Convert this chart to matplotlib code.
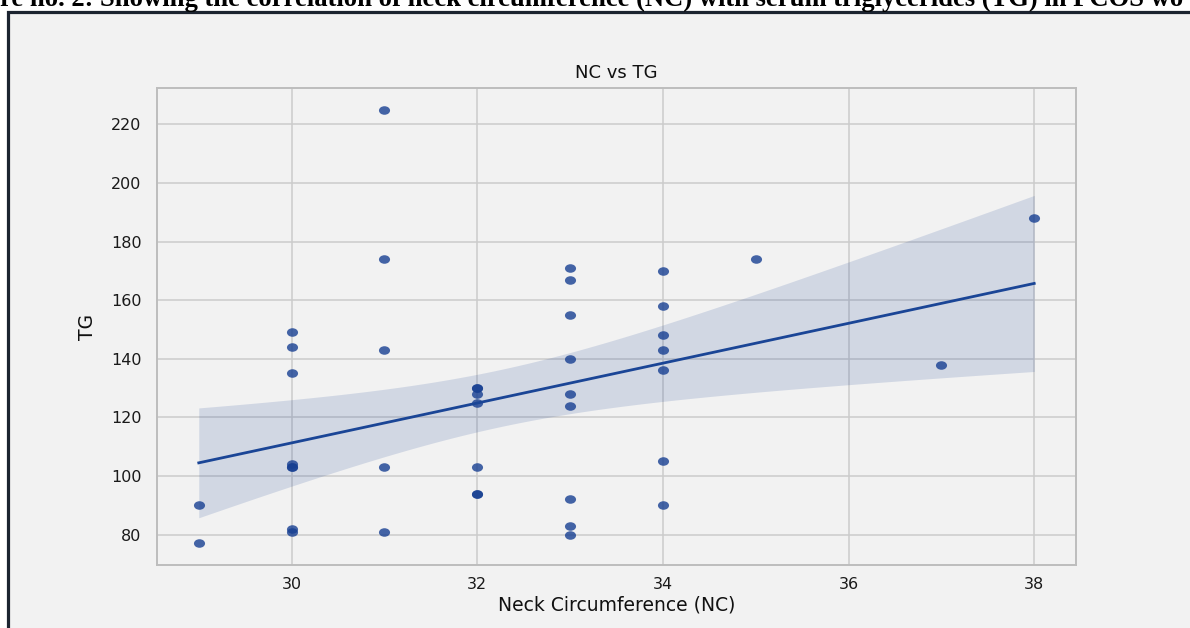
import numpy as np
import matplotlib
matplotlib.use("Agg")
import matplotlib.pyplot as plt
from matplotlib.path import Path
from matplotlib.patches import Rectangle
from matplotlib.transforms import Affine2D

# neck circumference (NC) and serum triglycerides (TG)
nc = [29, 29,
      30, 30, 30, 30, 30, 30, 30, 30,
      31, 31, 31, 31, 31,
      32, 32, 32, 32, 32, 32, 32,
      33, 33, 33, 33, 33, 33, 33, 33, 33,
      34, 34, 34, 34, 34, 34, 34,
      35, 37, 38]
tg = [90, 77,
      149, 144, 135, 104, 103, 103, 82, 81,
      225, 174, 143, 103, 81,
      130, 130, 128, 125, 103, 94, 94,
      171, 167, 155, 140, 128, 124, 92, 83, 80,
      170, 158, 148, 143, 136, 105, 90,
      174, 138, 188]

x_ticks = [30, 32, 34, 36, 38]
y_ticks = [80, 100, 120, 140, 160, 180, 200, 220]

caption = ("re no. 2: Showing the correlation of neck circumference (NC) "
           "with serum triglycerides (TG) in PCOS wo")

BG = "#f2f2f2"
COL = "#173f92"


def fit_band(x, y, xs, t=1.9):
    x = np.asarray(x, float)
    y = np.asarray(y, float)
    b, a = np.polyfit(x, y, 1)
    yhat = a + b * xs
    n = len(x)
    resid = y - (a + b * x)
    s = np.sqrt(np.sum(resid ** 2) / (n - 2))
    sxx = np.sum((x - x.mean()) ** 2)
    se = s * np.sqrt(1.0 / n + (xs - x.mean()) ** 2 / sxx)
    return yhat, yhat - t * se, yhat + t * se


def main():
    fig = plt.figure(figsize=(11.9, 6.28), dpi=100, facecolor="white")

    # framed panel behind the chart
    W, H = 1190.0, 628.0
    fig.patches.append(Rectangle((7.5 / W, -0.1), 1.2, 1 - 11.5 / H + 0.1,
                                 transform=fig.transFigure, facecolor=BG,
                                 edgecolor="#1c2430", linewidth=2.3,
                                 zorder=-5))

    fig.text(0.0, 1 - 6 / H, caption, ha="left", va="baseline",
             family="Liberation Serif", weight="bold", fontsize=19.2,
             color="black")

    ax = fig.add_axes([157 / W, 1 - 565 / H, (1076 - 157) / W, (565 - 88) / H])
    ax.set_facecolor(BG)

    xs = np.linspace(min(nc), max(nc), 100)
    yhat, lo, hi = fit_band(nc, tg, xs)

    ell = Path.unit_circle().transformed(Affine2D().scale(1.3, 1.0))
    ax.scatter(nc, tg, marker=ell, s=64, color=COL, alpha=0.8,
               linewidths=0, zorder=3)
    ax.fill_between(xs, lo, hi, color=COL, alpha=0.15, linewidth=0, zorder=2)
    ax.plot(xs, yhat, color="#1a4596", lw=2.0, zorder=4)

    ax.set_xlim(28.55, 38.45)
    ax.set_ylim(69.6, 232.4)
    ax.set_xticks(x_ticks)
    ax.set_yticks(y_ticks)
    ax.grid(True, color="#cbcbcb", lw=1.1)
    ax.set_axisbelow(True)
    for sp in ax.spines.values():
        sp.set_color("#bdbdbd")
        sp.set_linewidth(1.4)
    ax.tick_params(axis="both", length=0, labelsize=11.5, labelcolor="#1a1a1a")
    ax.tick_params(axis="x", pad=8.5)
    ax.tick_params(axis="y", pad=11)

    ax.set_title("NC vs TG", fontsize=13, pad=7, color="#111111")
    ax.set_xlabel("Neck Circumference (NC)", fontsize=13.5, labelpad=3,
                  color="#111111")
    ax.set_ylabel("TG", fontsize=13.5, labelpad=10, color="#111111")

    fig.savefig("out.png", dpi=100, facecolor="white")


if __name__ == "__main__":
    main()
